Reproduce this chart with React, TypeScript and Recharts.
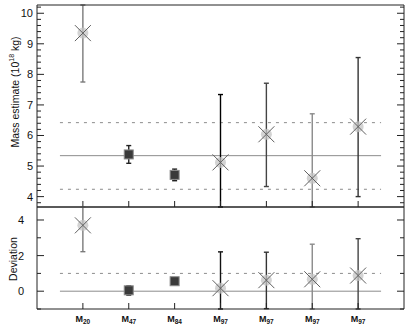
import React from "react";
import { ComposedChart, Scatter, ErrorBar, XAxis, YAxis, ReferenceLine } from "recharts";

// estimators (subscript of M) and marker kinds
const labels = ["20", "47", "84", "97", "97", "97", "97"];
const markers = ["cross", "square", "square", "cross", "cross", "cross", "cross"];

// mass estimate, 10^18 kg
const massValue = [9.35, 5.38, 4.71, 5.12, 6.04, 4.6, 6.29];
const massLow = [7.75, 5.09, 4.52, 2.9, 4.33, 2.49, 4.0];
const massHigh = [10.95, 5.67, 4.9, 7.34, 7.71, 6.71, 8.55];
const massErrColor = ["#7a7a7a", "#222", "#222", "#000", "#444", "#8a8a8a", "#333"];

// deviation
const devValue = [3.7, 0.05, 0.56, 0.17, 0.62, 0.67, 0.88];
const devLow = [2.22, -0.22, 0.45, -1.87, -0.98, -1.3, -1.2];
const devHigh = [5.18, 0.3, 0.68, 2.21, 2.19, 2.64, 2.95];
const devErrColor = ["#7a7a7a", "#222", "#222", "#111", "#333", "#8a8a8a", "#444"];

// reference levels
const massMean = 5.34;
const massBand = [4.24, 6.42];
const devMean = 0;
const devBand = 1;
const lineSpan = [0.5, 7.5];

// axes
const xDomain = [0, 8];
const xTicks = [1, 2, 3, 4, 5, 6, 7];
const massDomain = [3.66, 10.27];
const massMajor = [4, 5, 6, 7, 8, 9, 10];
const devDomain = [-1, 4.73];
const devMajor = [0, 2, 4];
const devMinor = [-1, 1, 3];

const FONT = "'Liberation Sans', Arial, Helvetica, sans-serif";
const AXIS = "#222";

const massMinor: number[] = [];
for (let v = 3.8; v < 10.25; v += 0.2) {
  const r = Math.round(v * 10) / 10;
  if (!massMajor.includes(r)) massMinor.push(r);
}

// error bars are cut at the frame (ErrorBar is not clipped by the plot area)
const clamp = (v: number, d: number[]) => Math.min(Math.max(v, d[0]), d[1]);

const massRows = labels.map((l, i) => ({
  x: i + 1,
  y: massValue[i],
  kind: markers[i],
  err: [massValue[i] - clamp(massLow[i], massDomain), clamp(massHigh[i], massDomain) - massValue[i]],
}));
const devRows = labels.map((l, i) => ({
  x: i + 1,
  y: devValue[i],
  kind: markers[i],
  err: [devValue[i] - clamp(devLow[i], devDomain), clamp(devHigh[i], devDomain) - devValue[i]],
}));

const Marker = (props: any) => {
  const { cx, cy, payload } = props;
  if (cx == null || cy == null) return <g />;
  if (payload.kind === "square") {
    return (
      <rect x={cx - 4.5} y={cy - 4.5} width={9} height={9} fill="#3a3a3a" stroke="#8a8a8a" strokeWidth={1} />
    );
  }
  const s = 8;
  return (
    <g>
      <circle cx={cx} cy={cy} r={5.5} fill="#c4c4c4" fillOpacity={0.75} />
      <path
        d={`M${cx - s},${cy - s}L${cx + s},${cy + s}M${cx - s},${cy + s}L${cx + s},${cy - s}`}
        stroke="#606060"
        strokeWidth={1}
      />
    </g>
  );
};

const Empty = () => <g />;

const makeYTick =
  (side: "left" | "right", margin: number, majors: number[], showLabel: boolean) => (props: any) => {
    const { x, y, payload } = props;
    const v = payload.value;
    const major = majors.some((m) => Math.abs(m - v) < 1e-6);
    const len = major ? 7 : 4;
    const ax = side === "left" ? x + margin : x - margin;
    const x2 = side === "left" ? ax + len : ax - len;
    return (
      <g>
        <line x1={ax} y1={y} x2={x2} y2={y} stroke={AXIS} strokeWidth={1} />
        {showLabel && major && (
          <text x={x} y={y} dy="0.36em" textAnchor="end" fontSize={11} fontFamily={FONT} fill="#111">
            {v}
          </text>
        )}
      </g>
    );
  };

const makeXTick = (side: "top" | "bottom", withLabel: boolean) => (props: any) => {
  const { x, y, payload } = props;
  const dir = side === "bottom" ? -1 : 1;
  const i = payload.value - 1;
  return (
    <g>
      <line x1={x} y1={y} x2={x} y2={y + dir * 6} stroke={AXIS} strokeWidth={1} />
      {withLabel && (
        <text x={x} y={y + 13} textAnchor="middle" fontFamily={FONT} fill="#111" fontWeight="bold">
          <tspan fontSize={9}>M</tspan>
          <tspan fontSize={6.5} dy={2}>
            {labels[i]}
          </tspan>
        </text>
      )}
    </g>
  );
};

export default function App() {
  return (
    <div style={{ position: "absolute", left: 0, top: 0, width: 407, height: 330, background: "#fff" }}>
      <div style={{ position: "absolute", left: 0, top: 0 }}>
        <ComposedChart width={407} height={212} margin={{ top: 4, right: 2, bottom: 4, left: 0 }}>
          <XAxis
            xAxisId="top"
            orientation="top"
            type="number"
            dataKey="x"
            domain={xDomain}
            ticks={xTicks}
            height={1}
            stroke={AXIS}
            tickLine={false}
            tickSize={0}
            tickMargin={0}
            tick={makeXTick("top", false)}
          />
          <XAxis
            type="number"
            dataKey="x"
            domain={xDomain}
            ticks={xTicks}
            height={1}
            stroke={AXIS}
            tickLine={false}
            tickSize={0}
            tickMargin={0}
            tick={makeXTick("bottom", false)}
          />
          <YAxis
            type="number"
            domain={massDomain}
            allowDataOverflow
            ticks={[...massMajor, ...massMinor]}
            width={37}
            stroke={AXIS}
            tickLine={false}
            tickSize={0}
            tickMargin={4}
            interval={0}
            tick={makeYTick("left", 4, massMajor, true)}
          />
          <YAxis
            yAxisId="r"
            orientation="right"
            type="number"
            domain={massDomain}
            allowDataOverflow
            ticks={[...massMajor, ...massMinor]}
            width={1}
            stroke={AXIS}
            tickLine={false}
            tickSize={0}
            tickMargin={0}
            interval={0}
            tick={makeYTick("right", 0, massMajor, false)}
          />
          <ReferenceLine
            segment={[{ x: lineSpan[0], y: massMean }, { x: lineSpan[1], y: massMean }]}
            stroke="#8c8c8c"
            strokeWidth={1}
          />
          {massBand.map((b) => (
            <ReferenceLine
              key={b}
              segment={[{ x: lineSpan[0], y: b }, { x: lineSpan[1], y: b }]}
              stroke="#8c8c8c"
              strokeWidth={1}
              strokeDasharray="3 5"
            />
          ))}
          <Scatter data={massRows} dataKey="y" shape={Marker} isAnimationActive={false} />
          {massRows.map((r, i) => (
            <Scatter key={i} data={[r]} dataKey="y" shape={Empty} isAnimationActive={false}>
              <ErrorBar
                dataKey="err"
                direction="y"
                width={2.5}
                stroke={massErrColor[i]}
                strokeWidth={1.4}
                isAnimationActive={false}
              />
            </Scatter>
          ))}
        </ComposedChart>
      </div>
      <div style={{ position: "absolute", left: 0, top: 200 }}>
        <ComposedChart width={407} height={130} margin={{ top: 6, right: 2, bottom: 0, left: 0 }}>
          <XAxis
            xAxisId="top"
            orientation="top"
            type="number"
            dataKey="x"
            domain={xDomain}
            ticks={xTicks}
            height={1}
            stroke={AXIS}
            tickLine={false}
            tickSize={0}
            tickMargin={0}
            tick={makeXTick("top", false)}
          />
          <XAxis
            type="number"
            dataKey="x"
            domain={xDomain}
            ticks={xTicks}
            height={21}
            stroke={AXIS}
            tickLine={false}
            tickSize={0}
            tickMargin={0}
            tick={makeXTick("bottom", true)}
          />
          <YAxis
            type="number"
            domain={devDomain}
            allowDataOverflow
            ticks={[...devMajor, ...devMinor]}
            width={37}
            stroke={AXIS}
            tickLine={false}
            tickSize={0}
            tickMargin={13}
            interval={0}
            tick={makeYTick("left", 13, devMajor, true)}
          />
          <YAxis
            yAxisId="r"
            orientation="right"
            type="number"
            domain={devDomain}
            allowDataOverflow
            ticks={[...devMajor, ...devMinor]}
            width={1}
            stroke={AXIS}
            tickLine={false}
            tickSize={0}
            tickMargin={0}
            interval={0}
            tick={makeYTick("right", 0, devMajor, false)}
          />
          <ReferenceLine
            segment={[{ x: lineSpan[0], y: devMean }, { x: lineSpan[1], y: devMean }]}
            stroke="#8c8c8c"
            strokeWidth={1}
          />
          <ReferenceLine
            segment={[{ x: lineSpan[0], y: devBand }, { x: lineSpan[1], y: devBand }]}
            stroke="#8c8c8c"
            strokeWidth={1}
            strokeDasharray="3 5"
          />
          <Scatter data={devRows} dataKey="y" shape={Marker} isAnimationActive={false} />
          {devRows.map((r, i) => (
            <Scatter key={i} data={[r]} dataKey="y" shape={Empty} isAnimationActive={false}>
              <ErrorBar
                dataKey="err"
                direction="y"
                width={2.5}
                stroke={devErrColor[i]}
                strokeWidth={1.4}
                isAnimationActive={false}
              />
            </Scatter>
          ))}
        </ComposedChart>
      </div>
      <svg width={407} height={330} style={{ position: "absolute", left: 0, top: 0, pointerEvents: "none" }}>
        <text
          transform="translate(15,92) rotate(-90)"
          textAnchor="middle"
          dominantBaseline="central"
          fontSize={10.5}
          fontFamily={FONT}
          fill="#111"
        >
          Mass estimate (10
          <tspan fontSize={7} dy={-4}>
            18
          </tspan>
          <tspan dy={4}> kg)</tspan>
        </text>
        <text
          transform="translate(13,259) rotate(-90)"
          textAnchor="middle"
          dominantBaseline="central"
          fontSize={10.5}
          fontFamily={FONT}
          fill="#111"
        >
          Deviation
        </text>
      </svg>
    </div>
  );
}
